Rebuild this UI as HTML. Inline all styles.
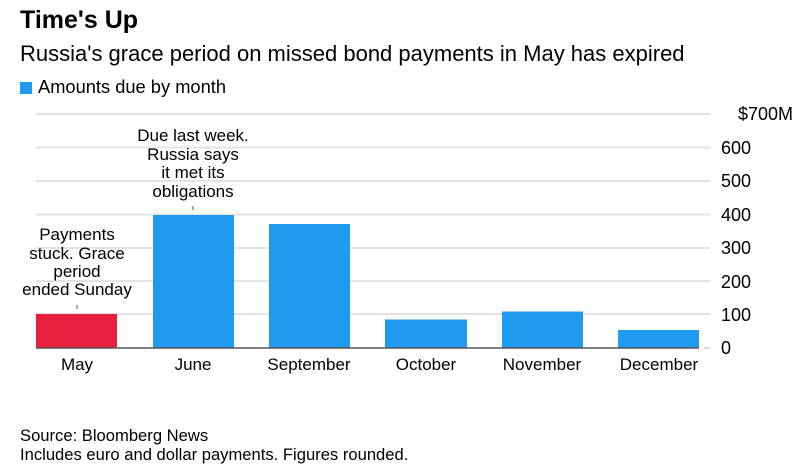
<!DOCTYPE html>
<html><head><meta charset="utf-8"><style>
body{margin:0;background:#fff;width:807px;height:474px;overflow:hidden;font-family:"Liberation Sans",sans-serif;color:#000;position:relative}
.a{position:absolute;white-space:nowrap}
</style></head><body>
<div class="a" style="left:20px;top:6px;font-size:25px;font-weight:bold">Time's Up</div>
<div class="a" style="left:20px;top:41px;font-size:22px">Russia's grace period on missed bond payments in May has expired</div>
<div class="a" style="left:20px;top:76px;font-size:18.3px"><span style="display:inline-block;width:12px;height:12px;background:#1e9bf0;margin-right:6px;vertical-align:-1px"></span>Amounts due by month</div>
<svg class="a" style="left:0;top:0" width="807" height="474">
<g stroke="#e3e3e3" stroke-width="2">
<line x1="36" x2="710" y1="114" y2="114"/><line x1="36" x2="710" y1="147.5" y2="147.5"/><line x1="36" x2="710" y1="181" y2="181"/><line x1="36" x2="710" y1="214.5" y2="214.5"/><line x1="36" x2="710" y1="248" y2="248"/><line x1="36" x2="710" y1="281" y2="281"/><line x1="36" x2="710" y1="314" y2="314"/>
</g>
<rect x="36" y="314" width="81" height="34" fill="#e8203f"/>
<g fill="#1e9bf0">
<rect x="153" y="215" width="81" height="133"/><rect x="269" y="224" width="81" height="124"/><rect x="385" y="319.5" width="82" height="28.5"/><rect x="502" y="311.5" width="81" height="36.5"/><rect x="618" y="330" width="81" height="18"/>
</g>
<line x1="36" x2="699" y1="348" y2="348" stroke="#555" stroke-width="1.5"/>
<line x1="704" x2="710" y1="348" y2="348" stroke="#ccc" stroke-width="1.5"/>
<line x1="77" x2="77" y1="305" y2="309" stroke="#555"/>
<line x1="193" x2="193" y1="206" y2="210" stroke="#555"/>
<g font-size="17" text-anchor="middle">
<text x="77" y="240">Payments</text><text x="77" y="259">stuck. Grace</text><text x="77" y="277">period</text><text x="77" y="295">ended Sunday</text>
<text x="193" y="141">Due last week.</text><text x="193" y="160">Russia says</text><text x="193" y="178">it met its</text><text x="193" y="197">obligations</text>
<text x="77" y="370">May</text><text x="193" y="370">June</text><text x="309" y="370">September</text><text x="426" y="370">October</text><text x="542" y="370">November</text><text x="659" y="370">December</text>
</g>
<g font-size="18">
<text x="738" y="120">$700M</text><text x="721" y="154">600</text><text x="721" y="187">500</text><text x="721" y="221">400</text><text x="721" y="254">300</text><text x="721" y="288">200</text><text x="721" y="321">100</text><text x="721" y="354">0</text>
</g>
</svg>
<div class="a" style="left:20px;top:426px;font-size:16.6px">Source: Bloomberg News</div>
<div class="a" style="left:20px;top:445px;font-size:16.6px">Includes euro and dollar payments. Figures rounded.</div>
</body></html>
